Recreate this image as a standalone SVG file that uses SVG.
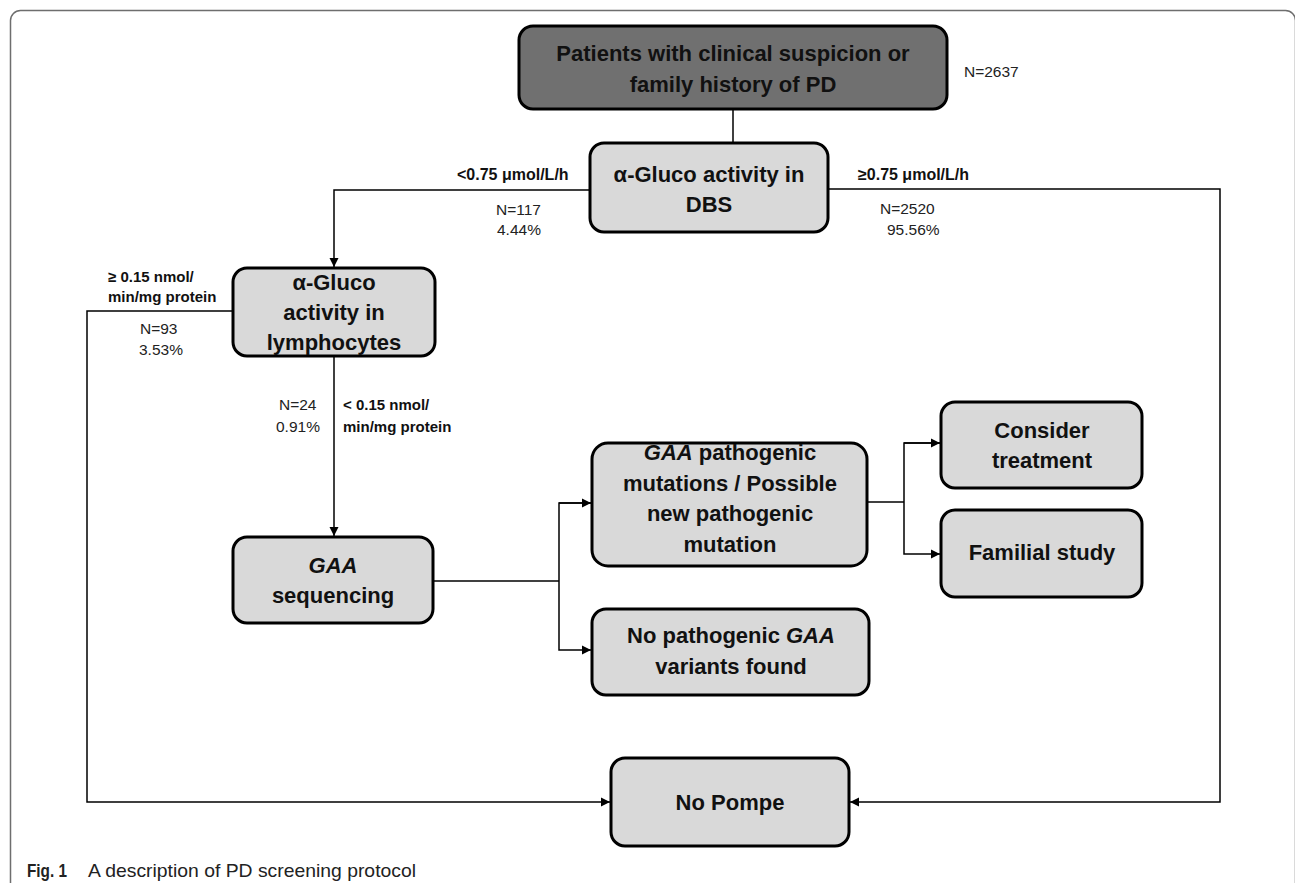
<svg xmlns="http://www.w3.org/2000/svg" width="1295" height="883" viewBox="0 0 1295 883">
  <defs>
    <marker id="arr" markerUnits="userSpaceOnUse" markerWidth="10" markerHeight="10" refX="9" refY="5" orient="auto">
      <path d="M0,0.5 L9,5 L0,9.5 z" fill="#000"/>
    </marker>
    <style>
      .box { fill: #d9d9d9; stroke: #000; stroke-width: 3; }
      .dark { fill: #707070; stroke: #000; stroke-width: 3; }
      .bt { font-family: "Liberation Sans", Arial, sans-serif; font-weight: bold; font-size: 22px; fill: #111; text-anchor: middle; }
      .lb { font-family: "Liberation Sans", Arial, sans-serif; font-weight: bold; font-size: 15px; fill: #111; }
      .lr { font-family: "Liberation Sans", Arial, sans-serif; font-size: 15.5px; fill: #222; }
      .cn { fill: none; stroke: #000; stroke-width: 1.5; }
      .cap { font-family: "Liberation Sans", Arial, sans-serif; font-size: 19px; fill: #222; }
    </style>
  </defs>
  <rect width="1295" height="883" fill="#fff"/>
  <rect x="10.5" y="10.5" width="1285" height="900" rx="10" fill="none" stroke="#6e6e6e" stroke-width="1.5"/>

  <g id="connectors">
    <line class="cn" x1="733" y1="109" x2="733" y2="143"/>
    <polyline class="cn" points="590,190 334,190 334,267" marker-end="url(#arr)"/>
    <polyline class="cn" points="828,189 1220,189 1220,802 850,802" marker-end="url(#arr)"/>
    <polyline class="cn" points="233,311 87,311 87,802 610,802" marker-end="url(#arr)"/>
    <line class="cn" x1="334" y1="356" x2="334" y2="536" marker-end="url(#arr)"/>
    <line class="cn" x1="433" y1="581" x2="559" y2="581"/>
    <polyline class="cn" points="591,503 559,503 559,650 591,650" marker-end="url(#arr)"/>
    <path class="cn" d="M559,503 L591,503" marker-end="url(#arr)"/>
    <line class="cn" x1="867" y1="502" x2="904" y2="502"/>
    <polyline class="cn" points="940,443 904,443 904,554 940,554" marker-end="url(#arr)"/>
    <path class="cn" d="M904,443 L940,443" marker-end="url(#arr)"/>
  </g>

  <g id="labels">
    <text class="lr" x="964" y="77">N=2637</text>
    <text class="lb" x="457" y="180" style="font-size:16px">&lt;0.75 μmol/L/h</text>
    <text class="lr" x="496" y="215">N=117</text>
    <text class="lr" x="497" y="235">4.44%</text>
    <text class="lb" x="858" y="180" style="font-size:16px">≥0.75 μmol/L/h</text>
    <text class="lr" x="880" y="214">N=2520</text>
    <text class="lr" x="887" y="235">95.56%</text>
    <text class="lb" x="108" y="282">≥ 0.15 nmol/</text>
    <text class="lb" x="108" y="302">min/mg protein</text>
    <text class="lr" x="140" y="334">N=93</text>
    <text class="lr" x="139" y="355">3.53%</text>
    <text class="lr" x="279" y="410">N=24</text>
    <text class="lr" x="276" y="432">0.91%</text>
    <text class="lb" x="343" y="410">&lt; 0.15 nmol/</text>
    <text class="lb" x="343" y="432">min/mg protein</text>
  </g>

  <g id="n-patients">
    <rect class="dark" x="519" y="26" width="428" height="83" rx="14"/>
    <text class="bt" x="733" y="61">Patients with clinical suspicion or</text>
    <text class="bt" x="733" y="92">family history of PD</text>
  </g>
  <g id="n-dbs">
    <rect class="box" x="590" y="143" width="238" height="89" rx="14"/>
    <text class="bt" x="709" y="182">α-Gluco activity in</text>
    <text class="bt" x="709" y="212">DBS</text>
  </g>
  <g id="n-lymph">
    <rect class="box" x="233" y="268" width="202" height="88" rx="14"/>
    <text class="bt" x="334" y="290">α-Gluco</text>
    <text class="bt" x="334" y="320">activity in</text>
    <text class="bt" x="334" y="350">lymphocytes</text>
  </g>
  <g id="n-gaa">
    <rect class="box" x="233" y="537" width="200" height="86" rx="14"/>
    <text class="bt" x="333" y="573" font-style="italic">GAA</text>
    <text class="bt" x="333" y="603">sequencing</text>
  </g>
  <g id="n-mutation">
    <rect class="box" x="592" y="443" width="275" height="123" rx="16"/>
    <text class="bt" x="730" y="460"><tspan font-style="italic">GAA</tspan> pathogenic</text>
    <text class="bt" x="730" y="491">mutations / Possible</text>
    <text class="bt" x="730" y="521">new pathogenic</text>
    <text class="bt" x="730" y="552">mutation</text>
  </g>
  <g id="n-nopath">
    <rect class="box" x="592" y="609" width="277" height="86" rx="14"/>
    <text class="bt" x="731" y="643">No pathogenic <tspan font-style="italic">GAA</tspan></text>
    <text class="bt" x="731" y="674">variants found</text>
  </g>
  <g id="n-treatment">
    <rect class="box" x="941" y="402" width="201" height="86" rx="14"/>
    <text class="bt" x="1042" y="438">Consider</text>
    <text class="bt" x="1042" y="468">treatment</text>
  </g>
  <g id="n-familial">
    <rect class="box" x="941" y="510" width="201" height="87" rx="14"/>
    <text class="bt" x="1042" y="560">Familial study</text>
  </g>
  <g id="n-nopompe">
    <rect class="box" x="611" y="758" width="238" height="88" rx="14"/>
    <text class="bt" x="730" y="810">No Pompe</text>
  </g>

  <g id="caption">
    <text class="cap" x="27" y="877" font-weight="bold" textLength="40" lengthAdjust="spacingAndGlyphs">Fig. 1</text>
    <text class="cap" x="88" y="877" textLength="328" lengthAdjust="spacingAndGlyphs">A description of PD screening protocol</text>
  </g>
</svg>
